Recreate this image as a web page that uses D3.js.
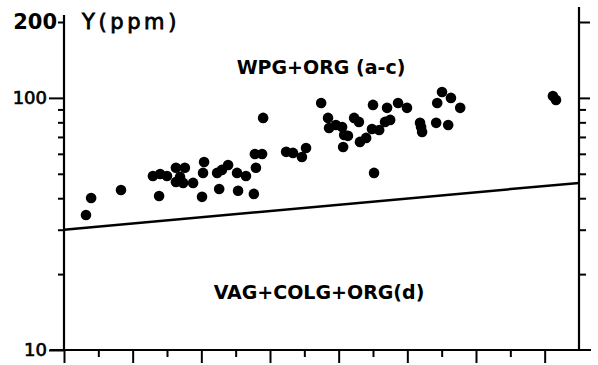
<!DOCTYPE html>
<html>
<head>
<meta charset="utf-8">
<script src="https://cdn.jsdelivr.net/npm/d3@7"></script>
<style>
  html, body { margin: 0; padding: 0; background: #fff; }
  svg { display: block; font-family: "DejaVu Sans", sans-serif; }
</style>
</head>
<body>
<div id="chart"></div>
<script>
// x positions are in tick units (the reference shows no x labels)
const xValues = [0.64, 0.79, 1.66, 2.77, 2.59, 2.80, 3.00, 3.26, 3.52, 3.26, 3.47, 3.76, 3.38,
  4.05, 4.08, 4.02, 4.46, 4.60, 4.78, 4.52, 5.04, 5.30, 5.07, 5.53, 5.59, 5.56, 5.77, 5.80,
  6.47, 6.67, 7.05, 6.93, 7.49, 7.69, 7.72, 7.92, 8.10, 8.16, 8.27, 8.13, 8.45, 8.59, 8.62,
  8.80, 9.00, 9.41, 8.97, 9.18, 9.35, 9.50, 9.73, 9.99, 9.03, 10.37, 10.40, 10.43, 10.84,
  11.19, 11.01, 10.87, 11.27, 11.54, 14.24, 14.33];
const yValues = [34.3, 40.1, 43.1, 40.8, 49.0, 49.9, 49.0, 52.8, 52.8, 46.4, 46.0, 46.0, 48.6,
  50.4, 55.7, 40.5, 50.4, 51.8, 54.2, 43.5, 50.4, 49.0, 42.8, 41.6, 52.8, 59.9, 59.9, 83.3,
  61.1, 60.5, 63.3, 58.3, 95.5, 83.3, 76.0, 78.1, 76.7, 71.3, 70.7, 63.9, 83.3, 80.3, 66.9,
  69.4, 93.8, 91.3, 75.3, 74.6, 80.3, 81.8, 95.5, 91.3, 50.4, 79.6, 76.7, 73.3, 79.6,
  78.1, 105.6, 95.5, 100.0, 91.3, 101.8, 98.2];

const boundaryX = [0, 15];
const boundaryY = [30, 46];

const yLabelled = [10, 100];
const yTop = [200];
const yMinor = [20, 30, 40, 50, 60, 70, 80, 90];
const xMajor = [0, 2, 4, 6, 8, 10, 12, 14];
const xMinor = [1, 3, 5, 7, 9, 11, 13];

const W = 598, H = 365;
const x = d3.scaleLinear().domain([0, 15]).range([64, 579]);
const y = d3.scaleLog().domain([10, 200]).range([350, 22]);

const svg = d3.select('#chart').append('svg').attr('width', W).attr('height', H);

function styleAxis(axis, width) {
  axis.select('.domain').remove();
  axis.selectAll('line').attr('stroke', '#000').attr('stroke-width', width || 2);
  axis.selectAll('text').attr('fill', '#000');
}

// left axis
svg.append('g').attr('transform', `translate(${x(0)},0)`)
  .call(d3.axisLeft(y).tickValues(yLabelled).tickSize(15).tickPadding(2).tickFormat(d3.format('d')))
  .call((a) => styleAxis(a))
  .call((a) => a.selectAll('text').style('font-size', '18px').style('font-family', '"DejaVu Sans"')
    .attr('stroke', '#000').attr('stroke-width', 0.7));
svg.append('g').attr('transform', `translate(${x(0)},0)`)
  .call(d3.axisLeft(y).tickValues(yTop).tickSize(6).tickPadding(1).tickFormat(d3.format('d')))
  .call((a) => styleAxis(a))
  .call((a) => a.selectAll('text').style('font-size', '21px').style('font-weight', 'bold')
    .style('font-family', '"DejaVu Sans"'));
svg.append('g').attr('transform', `translate(${x(0)},0)`)
  .call(d3.axisLeft(y).tickValues(yMinor).tickSize(6).tickFormat(''))
  .call((a) => styleAxis(a));

// right axis
svg.append('g').attr('transform', `translate(${x(15)},0)`)
  .call(d3.axisRight(y).tickValues([100, 200]).tickSize(11).tickFormat(''))
  .call((a) => styleAxis(a));
svg.append('g').attr('transform', `translate(${x(15)},0)`)
  .call(d3.axisRight(y).tickValues(yMinor).tickSize(7).tickFormat(''))
  .call((a) => styleAxis(a));

// bottom axis
svg.append('g').attr('transform', `translate(0,${y(10)})`)
  .call(d3.axisBottom(x).tickValues(xMajor).tickSize(13).tickFormat(''))
  .call((a) => styleAxis(a));
svg.append('g').attr('transform', `translate(0,${y(10)})`)
  .call(d3.axisBottom(x).tickValues(xMinor).tickSize(7).tickFormat(''))
  .call((a) => styleAxis(a));

// frame lines
svg.append('line').attr('x1', x(0)).attr('x2', x(0)).attr('y1', y(200) - 7).attr('y2', y(10))
  .attr('stroke', '#000').attr('stroke-width', 2.2);
svg.append('line').attr('x1', x(15)).attr('x2', x(15)).attr('y1', y(200) - 15).attr('y2', y(10))
  .attr('stroke', '#000').attr('stroke-width', 2.2);
svg.append('line').attr('x1', x(0) - 14).attr('x2', x(15) + 12).attr('y1', y(10)).attr('y2', y(10))
  .attr('stroke', '#000').attr('stroke-width', 2.2);

// boundary line
const line = d3.line().x((d) => x(d[0])).y((d) => y(d[1]));
svg.append('path')
  .datum(boundaryX.map((v, i) => [v, boundaryY[i]]))
  .attr('d', line)
  .attr('fill', 'none')
  .attr('stroke', '#000')
  .attr('stroke-width', 2.5);

// points
svg.append('g').selectAll('circle')
  .data(xValues.map((v, i) => ({ x: v, y: yValues[i] })))
  .join('circle')
  .attr('cx', (d) => x(d.x))
  .attr('cy', (d) => y(d.y))
  .attr('r', 5.3)
  .attr('fill', '#000');

// labels
svg.append('text').attr('x', 82).attr('y', 29)
  .style('font-size', '21px').style('letter-spacing', '3.6px').attr('stroke', '#000').attr('stroke-width', 0.8)
  .text('Y(ppm)');
svg.append('text').attr('x', 321).attr('y', 74).attr('text-anchor', 'middle')
  .style('font-size', '19px').style('font-weight', 'bold')
  .text('WPG+ORG (a-c)');
svg.append('text').attr('x', 319).attr('y', 299).attr('text-anchor', 'middle')
  .style('font-size', '19px').style('font-weight', 'bold')
  .text('VAG+COLG+ORG(d)');
</script>
</body>
</html>
